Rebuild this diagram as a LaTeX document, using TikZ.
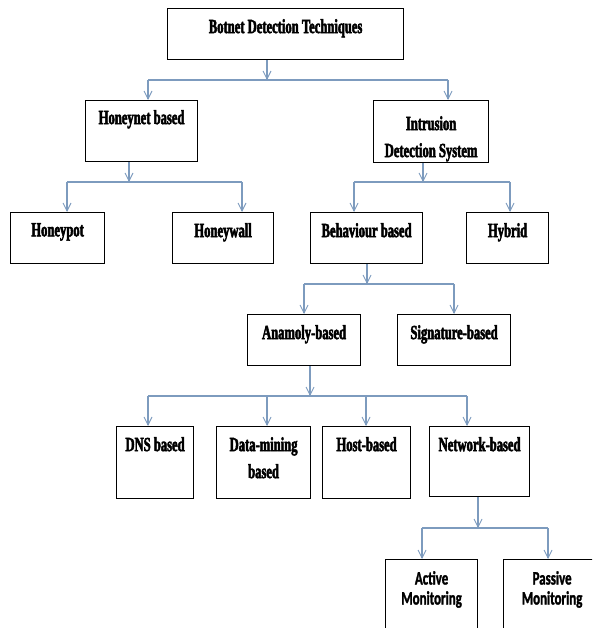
\documentclass[tikz,border=0pt]{standalone}
\usepackage{fontspec}
\usetikzlibrary{arrows.meta}
\newfontfamily\boxfont{Liberation Serif}[UprightFont={* Bold},FakeStretch=0.63,FakeBold=2.5]
\newfontfamily\monfont{Carlito}[UprightFont={* Bold},FakeStretch=0.68,FakeBold=1.5]
\definecolor{linkblue}{RGB}{125,155,190}
\tikzset{
  box/.style={draw=black, line width=1.2pt, rectangle, inner sep=0pt, anchor=north west},
  txt/.style={anchor=north, inner sep=0pt, align=center, font=\boxfont\fontsize{20}{27}\selectfont},
  mtxt/.style={anchor=north, inner sep=0pt, align=center, font=\monfont\fontsize{19}{20}\selectfont},
  link/.style={draw=linkblue, line width=1.1pt},
  arr/.style={link, -{Straight Barb[length=8pt,width=8pt,line width=0.9pt]}}
}
\begin{document}
\begin{tikzpicture}[x=1pt,y=-1pt]
    \useasboundingbox (0,0) rectangle (592,628);
    \clip (0,0) rectangle (592,628);

    % boxes, placed by their top left corner
    \node[box, minimum width=236, minimum height=51] (top) at (167,8) {};
    \node[box, minimum width=112, minimum height=61] (hnet) at (85,100) {};
    \node[box, minimum width=115, minimum height=62] (ids) at (373,100) {};
    \node[box, minimum width=94, minimum height=51] (hpot) at (10,212) {};
    \node[box, minimum width=101, minimum height=51] (hwall) at (172,212) {};
    \node[box, minimum width=112, minimum height=51] (behav) at (310,212) {};
    \node[box, minimum width=82, minimum height=51] (hybrid) at (466,212) {};
    \node[box, minimum width=113, minimum height=51] (anom) at (247,314) {};
    \node[box, minimum width=113, minimum height=51] (sig) at (397,314) {};
    \node[box, minimum width=77, minimum height=72] (dns) at (116,426) {};
    \node[box, minimum width=94, minimum height=72] (dmin) at (216,426) {};
    \node[box, minimum width=88, minimum height=72] (host) at (322,426) {};
    \node[box, minimum width=100, minimum height=70] (net) at (429,426) {};
    \node[box, minimum width=92, minimum height=81] (active) at (385,559) {};
    \node[box, minimum width=97, minimum height=81] (passive) at (503,559) {};

    % texts sit near the top of each box
    \node[txt] (top-t) at ([yshift=-11pt]top.north) {Botnet Detection Techniques};
    \node[txt] (hnet-t) at ([yshift=-10pt]hnet.north) {Honeynet based};
    \node[txt] (ids-t) at ([yshift=-16pt]ids.north) {Intrusion\\Detection System};
    \node[txt] (hpot-t) at ([yshift=-11pt]hpot.north) {Honeypot};
    \node[txt] (hwall-t) at ([yshift=-11pt]hwall.north) {Honeywall};
    \node[txt] (behav-t) at ([yshift=-11pt]behav.north) {Behaviour based};
    \node[txt] (hybrid-t) at ([yshift=-11pt]hybrid.north) {Hybrid};
    \node[txt] (anom-t) at ([yshift=-11pt]anom.north) {Anamoly-based};
    \node[txt] (sig-t) at ([yshift=-11pt]sig.north) {Signature-based};
    \node[txt] (dns-t) at ([yshift=-11pt]dns.north) {DNS based};
    \node[txt] (dmin-t) at ([yshift=-11pt]dmin.north) {Data-mining\\based};
    \node[txt] (host-t) at ([yshift=-11pt]host.north) {Host-based};
    \node[txt] (net-t) at ([yshift=-11pt]net.north) {Network-based};
    \node[mtxt] (active-t) at ([yshift=-12pt]active.north) {Active\\Monitoring};
    \node[mtxt] (passive-t) at ([yshift=-12pt]passive.north) {Passive\\Monitoring};

    % junctions on the bars
    \coordinate (j1) at (267,80);
    \coordinate (j2) at (129,182);
    \coordinate (j3) at (423,182);
    \coordinate (j4) at (367,284);
    \coordinate (j5) at (310,396);
    \coordinate (j6) at (478,528);
    \coordinate (b-hnet) at (148,80);
    \coordinate (b-ids) at (448,80);
    \coordinate (b-hpot) at (67,182);
    \coordinate (b-hwall) at (242,182);
    \coordinate (b-behav) at (354,182);
    \coordinate (b-hybrid) at (510,182);
    \coordinate (b-anom) at (304,284);
    \coordinate (b-sig) at (454,284);
    \coordinate (b-dns) at (148,396);
    \coordinate (b-dmin) at (267,396);
    \coordinate (b-host) at (366,396);
    \coordinate (b-net) at (467,396);
    \coordinate (b-active) at (422,528);
    \coordinate (b-passive) at (548,528);

    % bars
    \draw[link] (b-hnet) -- (b-ids);
    \draw[link] (b-hpot) -- (b-hwall);
    \draw[link] (b-behav) -- (b-hybrid);
    \draw[link] (b-anom) -- (b-sig);
    \draw[link] (b-dns) -- (b-net);
    \draw[link] (b-active) -- (b-passive);

    % drops from the parents
    \draw[arr] (top.south -| j1) -- (j1);
    \draw[arr] (hnet.south -| j2) -- (j2);
    \draw[arr] (ids.south -| j3) -- (j3);
    \draw[arr] (behav.south -| j4) -- (j4);
    \draw[arr] (anom.south -| j5) -- (j5);
    \draw[arr] (net.south -| j6) -- (j6);

    % drops to the children
    \foreach \c in {hnet,ids,hpot,hwall,behav,hybrid,anom,sig,dns,dmin,host,net,active,passive}
        \draw[arr] (b-\c) -- (b-\c |- \c.north);
\end{tikzpicture}
\end{document}
